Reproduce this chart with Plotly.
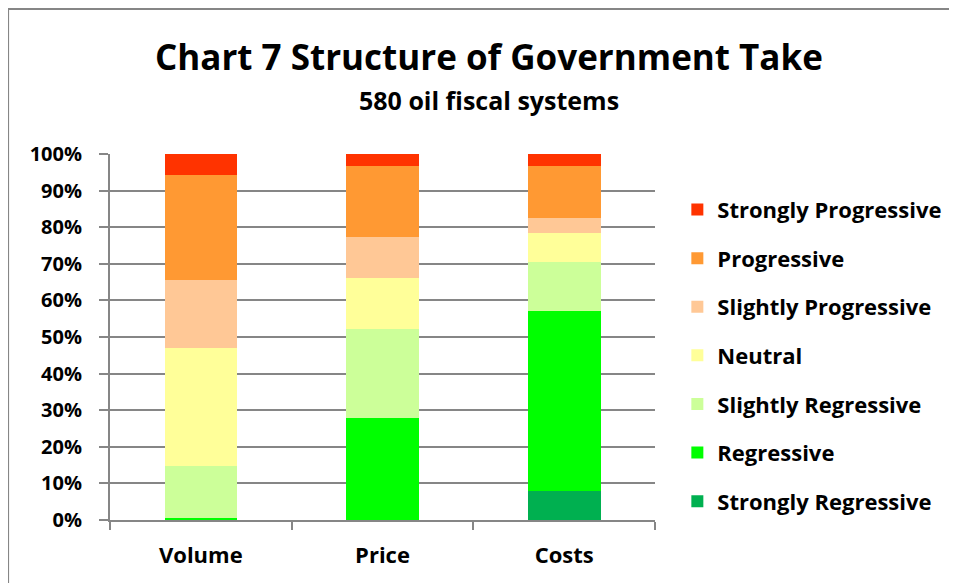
"""Chart 7: structure of government take across 580 oil fiscal systems."""

import plotly.graph_objects as go

# Categories on the x axis
categories = ["Volume", "Price", "Costs"]

# Shares (%) per category, stacked bottom to top
strongly_regressive = [0.0, 0.0, 8.0]
regressive = [0.5, 27.8, 49.0]
slightly_regressive = [14.3, 24.4, 13.5]
neutral = [32.2, 13.8, 8.0]
slightly_progressive = [18.7, 11.3, 4.1]
progressive = [28.5, 19.3, 14.2]
strongly_progressive = [5.8, 3.4, 3.2]

series = [
    ("Strongly Regressive", strongly_regressive, "#00B050"),
    ("Regressive", regressive, "#00FF00"),
    ("Slightly Regressive", slightly_regressive, "#CCFF99"),
    ("Neutral", neutral, "#FFFF99"),
    ("Slightly Progressive", slightly_progressive, "#FFC896"),
    ("Progressive", progressive, "#FF9933"),
    ("Strongly Progressive", strongly_progressive, "#FF3300"),
]

FONT = "'Open Sans', sans-serif"
GRID = "#868686"

fig = go.Figure()

for i, (name, values, color) in enumerate(series):
    fig.add_trace(
        go.Bar(
            x=categories,
            y=values,
            name=name,
            legendgroup=name,
            legendrank=len(series) - i,  # top of stack listed first
            marker=dict(color=color, line=dict(width=0)),
        )
    )

# Outer chart border (left and top edges visible)
fig.add_shape(
    type="rect", xref="paper", yref="paper",
    x0=-0.187, x1=1.58, y0=-0.25, y1=1.396,
    line=dict(color=GRID, width=2),
)

# Title and subtitle
fig.add_annotation(
    text="<b>Chart 7 Structure of Government Take</b>",
    xref="paper", yref="paper", x=0.695, y=1.267,
    xanchor="center", yanchor="middle",
    showarrow=False, font=dict(size=35, color="black", family=FONT),
)
fig.add_annotation(
    text="<b>580 oil fiscal systems</b>",
    xref="paper", yref="paper", x=0.695, y=1.148,
    xanchor="center", yanchor="middle",
    showarrow=False, font=dict(size=25, color="black", family=FONT),
)

# the page body adds an 8 px offset, so margins are shifted to compensate
fig.update_layout(
    width=957,
    height=583,
    barmode="stack",
    bargap=0.6,
    plot_bgcolor="white",
    paper_bgcolor="white",
    margin=dict(l=102, r=310, t=146, b=71),
    font=dict(family=FONT, color="black"),
    showlegend=True,
    legend=dict(
        traceorder="grouped",
        x=1.041, xanchor="left",
        y=0.905, yanchor="top",
        font=dict(size=22, family=FONT, weight="bold"),
        tracegroupgap=17,
        bgcolor="rgba(0,0,0,0)",
    ),
)

fig.update_xaxes(
    showline=True, linecolor=GRID, linewidth=2,
    ticks="outside", tickson="boundaries", ticklen=8, tickcolor=GRID, tickwidth=2,
    tickfont=dict(size=22, family=FONT, weight="bold"),
    ticklabelstandoff=15,
)

fig.update_yaxes(
    range=[0, 100],
    dtick=10,
    ticksuffix="%",
    showgrid=True, gridcolor=GRID, gridwidth=2,
    showline=True, linecolor=GRID, linewidth=2,
    ticks="outside", ticklen=9, tickcolor=GRID, tickwidth=2,
    tickfont=dict(size=20, family=FONT, weight="bold"),
    ticklabelstandoff=13,
    zeroline=False,
)

fig.write_html("out.html")
